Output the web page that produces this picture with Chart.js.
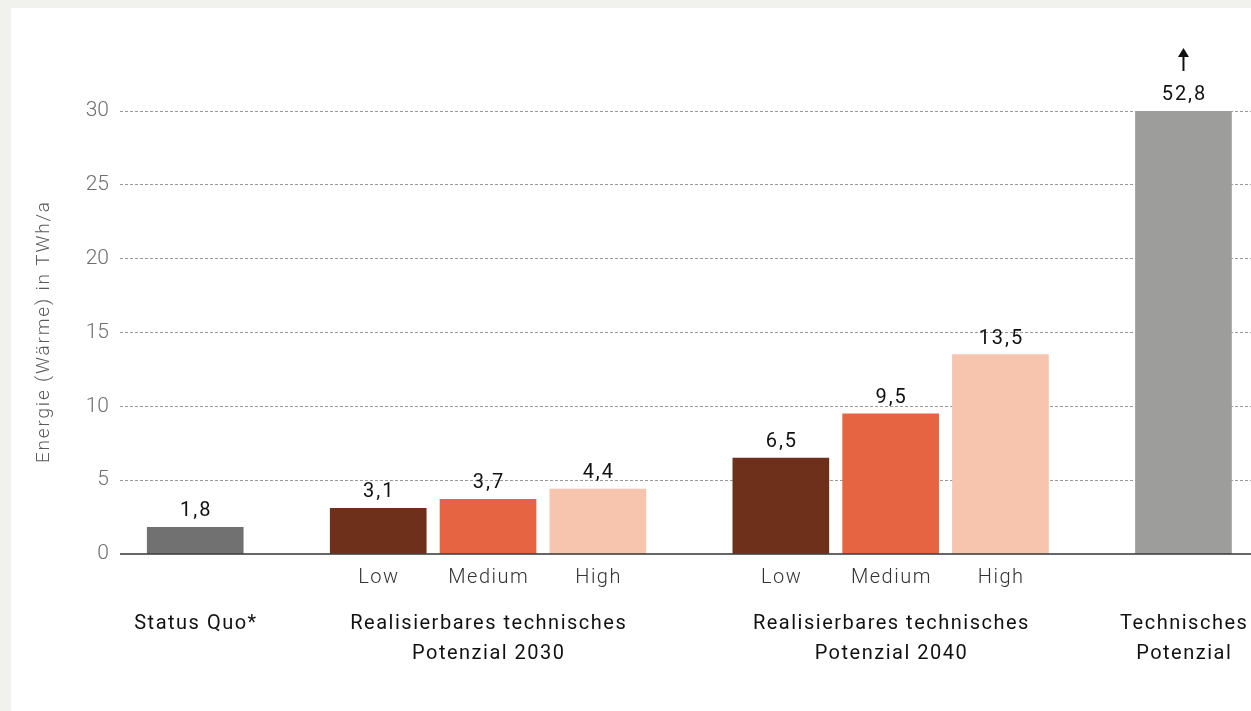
<!DOCTYPE html>
<html>
<head>
<meta charset="utf-8">
<script src="https://cdn.jsdelivr.net/npm/chart.js@4.4.0/dist/chart.umd.min.js"></script>
<style>
  html, body { margin: 0; padding: 0; background: #f1f2ee; width: 1251px; height: 711px; overflow: hidden; }
  #panel { position: absolute; left: 11px; top: 8px; width: 1240px; height: 703px; background: #ffffff; }
  canvas { display: block; }
</style>
</head>
<body>
<div id="panel"><canvas id="c" width="1240" height="703"></canvas></div>
<script>
// ---- data ----
const barLabels = ['', 'Low', 'Medium', 'High', 'Low', 'Medium', 'High', ''];
const barGroup  = [0, 1, 1, 1, 2, 2, 2, 3];
const groupTitles = [
  ['Status Quo*'],
  ['Realisierbares technisches', 'Potenzial 2030'],
  ['Realisierbares technisches', 'Potenzial 2040'],
  ['Technisches', 'Potenzial']
];
const values = [1.8, 3.1, 3.7, 4.4, 6.5, 9.5, 13.5, 52.8];
const yTicks = [0, 5, 10, 15, 20, 25, 30];
const yTitle = 'Energie (Wärme) in TWh/a';

// ---- styles ----
const barColors = ['#717171', '#6e2f1b', '#e76443', '#f7c4ae', '#6e2f1b', '#e76443', '#f7c4ae', '#9d9d9b'];
const FONT = 'Roboto';

// layout units along the x axis: bars within a group 3 units apart, groups 5 units apart
const xPos = [];
{
  let p = 0;
  for (let i = 0; i < values.length; i++) {
    if (i > 0) p += (barGroup[i] === barGroup[i - 1]) ? 3 : 5;
    xPos.push(p);
  }
}
const yMax = yTicks[yTicks.length - 1];
const fmt = v => v.toLocaleString('de-DE', { minimumFractionDigits: 1, maximumFractionDigits: 1 });

function spacedText(ctx, text, x, y, spacing) {
  ctx.letterSpacing = spacing + 'px';
  // compensate trailing spacing so text stays centred
  ctx.fillText(text, x + spacing / 2, y);
  ctx.letterSpacing = '0px';
}

const labelPlugin = {
  id: 'labels',
  afterDatasetsDraw(chart) {
    const ctx = chart.ctx;
    const ys = chart.scales.y;
    const area = chart.chartArea;
    const meta = chart.getDatasetMeta(0);
    ctx.save();
    // zero line
    const y0 = ys.getPixelForValue(0);
    ctx.strokeStyle = '#333333';
    ctx.lineWidth = 1.6;
    ctx.beginPath();
    ctx.moveTo(area.left, y0);
    ctx.lineTo(area.right, y0);
    ctx.stroke();

    // value labels
    ctx.textAlign = 'center';
    ctx.textBaseline = 'alphabetic';
    ctx.fillStyle = '#111111';
    ctx.font = '400 20px ' + FONT;
    meta.data.forEach((bar, i) => {
      const v = values[i];
      const top = ys.getPixelForValue(Math.min(v, yMax));
      spacedText(ctx, fmt(v), bar.x, top - 11, 2);
      if (v > yMax) {
        // arrow indicating value beyond axis
        const tipY = top - 63;
        ctx.strokeStyle = '#111111';
        ctx.lineWidth = 2;
        ctx.beginPath();
        ctx.moveTo(bar.x, tipY + 6);
        ctx.lineTo(bar.x, tipY + 23);
        ctx.stroke();
        ctx.beginPath();
        ctx.moveTo(bar.x, tipY);
        ctx.lineTo(bar.x - 5.5, tipY + 9);
        ctx.lineTo(bar.x + 5.5, tipY + 9);
        ctx.closePath();
        ctx.fill();
      }
    });

    // category labels
    ctx.textBaseline = 'middle';
    ctx.fillStyle = '#333333';
    ctx.font = '300 20px ' + FONT;
    meta.data.forEach((bar, i) => {
      if (barLabels[i]) spacedText(ctx, barLabels[i], bar.x, area.bottom + 24, 1.5);
    });

    // group titles
    ctx.fillStyle = '#111111';
    ctx.font = '400 20px ' + FONT;
    groupTitles.forEach((lines, g) => {
      const xs = meta.data.filter((b, i) => barGroup[i] === g).map(b => b.x);
      const cx = (Math.min(...xs) + Math.max(...xs)) / 2;
      lines.forEach((t, k) => spacedText(ctx, t, cx, area.bottom + 70 + k * 30, 1.5));
    });

    // y-axis title
    ctx.save();
    ctx.translate(33, (area.top + area.bottom) / 2);
    ctx.rotate(-Math.PI / 2);
    ctx.fillStyle = '#5a5a5a';
    ctx.font = '300 19px ' + FONT;
    ctx.textBaseline = 'middle';
    spacedText(ctx, yTitle, 0, 0, 1.8);
    ctx.restore();

    ctx.restore();
  }
};

new Chart(document.getElementById('c'), {
  type: 'bar',
  data: {
    datasets: [{
      data: values.map((v, i) => ({ x: xPos[i], y: v })),
      backgroundColor: barColors,
      borderWidth: 0,
      barThickness: 96
    }]
  },
  options: {
    responsive: false,
    animation: false,
    events: [],
    layout: { padding: { top: 103, bottom: 157, left: 0, right: 0 } },
    plugins: { legend: { display: false }, tooltip: { enabled: false } },
    scales: {
      x: {
        type: 'linear',
        display: false,
        min: -2.055,
        max: 28.845,
        offset: false
      },
      y: {
        min: 0,
        max: yMax,
        afterBuildTicks: s => { s.ticks = yTicks.map(v => ({ value: v })); },
        afterFit: s => { s.width = 109; },
        border: { display: false, dash: [3, 2] },
        grid: {
          color: c => (c.tick && c.tick.value === 0) ? 'rgba(0,0,0,0)' : '#9a9a9a',
          lineWidth: 1,
          drawTicks: false
        },
        ticks: {
          color: '#6f6f6f',
          padding: 11,
          font: { family: FONT, size: 21, weight: '300' }
        }
      }
    }
  },
  plugins: [labelPlugin]
});
</script>
</body>
</html>
